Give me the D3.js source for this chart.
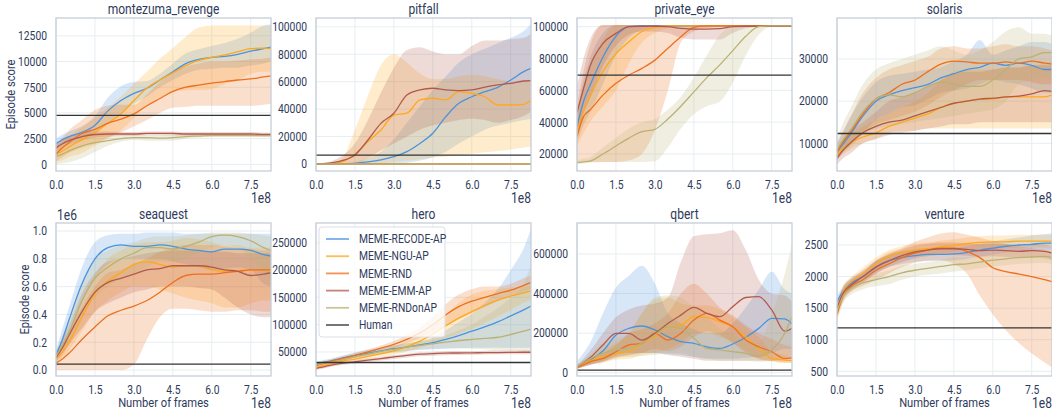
<!DOCTYPE html>
<html>
<head>
<meta charset="utf-8">
<script src="https://cdn.jsdelivr.net/npm/d3@7"></script>
<style>
  html, body { margin: 0; padding: 0; background: #fff; }
  svg text { font-family: Roboto, "Noto Sans", sans-serif; }
  .nar { transform-box: fill-box; transform: scaleX(0.86); }
</style>
</head>
<body>
<svg id="chart" width="1052" height="410"></svg>
<script>
// ---------------------------------------------------------------------------
// Training curves: episode score vs. number of frames (x axis in units of 1e8)
// ---------------------------------------------------------------------------
const frames = [0, 0.25, 0.5, 1, 1.5, 2, 2.5, 3, 3.5, 4, 4.5, 5, 5.5, 6, 6.5, 7, 7.5, 8, 8.28];
const frameMax = 8.28;
const xTicks = [0, 1.5, 3.0, 4.5, 6.0, 7.5];

const methods = ["MEME-RECODE-AP", "MEME-NGU-AP", "MEME-RND", "MEME-EMM-AP", "MEME-RNDonAP"];
const colors = ["#4a93df", "#ffa81a", "#ee6f1c", "#b15a4c", "#bab172"];
const humanColor = "#333333";

const games = ["montezuma_revenge", "pitfall", "private_eye", "solaris",
               "seaquest", "hero", "qbert", "venture"];
const humanScores = [4753.3, 6463.7, 69571.3, 12326.7, 0.0420547, 30826.4, 13455.0, 1187.5];

const yDomains = [[-650, 14230], [-5100, 106400], [9300, 105470], [3436, 39716],
                  [-0.043, 1.0576], [6090, 286000], [-16700, 756600], [425.6, 2848]];
const yTicks = [
  [0, 2500, 5000, 7500, 10000, 12500],
  [0, 20000, 40000, 60000, 80000, 100000],
  [20000, 40000, 60000, 80000, 100000],
  [10000, 20000, 30000],
  [0, 0.2, 0.4, 0.6, 0.8, 1.0],
  [50000, 100000, 150000, 200000, 250000],
  [0, 200000, 400000, 600000],
  [500, 1000, 1500, 2000, 2500]
];

// Each block: one row per method (RECODE, NGU, RND, EMM, RNDonAP)
const montezumaMean = [
  [2000, 2400, 2700, 3100, 3800, 5200, 6200, 6900, 7400, 8200, 9000, 9800, 10200, 10400, 10500, 10700, 11000, 11250, 11400],
  [1000, 1300, 1700, 2400, 3100, 4000, 4900, 6200, 7400, 8200, 8900, 9600, 10100, 10400, 10650, 10950, 11250, 11300, 11250],
  [1000, 1600, 2100, 3000, 3400, 4000, 4400, 4900, 5700, 6400, 7100, 7500, 7700, 7900, 8050, 8200, 8300, 8500, 8600],
  [1600, 2000, 2300, 2700, 2900, 2950, 2950, 2950, 3000, 3000, 3000, 2950, 2950, 2950, 2950, 2950, 2950, 2900, 2900],
  [800, 1000, 1300, 1800, 2100, 2300, 2500, 2600, 2600, 2550, 2600, 2700, 2750, 2800, 2800, 2800, 2800, 2800, 2800]
];
const montezumaLow = [
  [1500, 1900, 2200, 2600, 3000, 4000, 5000, 5900, 6600, 7500, 8200, 8800, 9200, 9300, 9400, 9400, 9600, 9800, 10000],
  [200, 400, 700, 1100, 1800, 2500, 3300, 4500, 5800, 6500, 7000, 7200, 7200, 7300, 7800, 8200, 8800, 9000, 9000],
  [300, 700, 1100, 1600, 2000, 2600, 3100, 3700, 4300, 5000, 5500, 5600, 5700, 5700, 5700, 5700, 5700, 5800, 5900],
  [1200, 1600, 1900, 2300, 2600, 2700, 2750, 2750, 2800, 2800, 2800, 2750, 2750, 2750, 2750, 2750, 2750, 2700, 2700],
  [0, 100, 200, 600, 1200, 1800, 2200, 2400, 2300, 2300, 2300, 2500, 2600, 2650, 2650, 2650, 2650, 2650, 2650]
];
const montezumaHigh = [
  [2500, 2900, 3200, 3700, 4700, 6500, 7600, 8000, 8100, 8800, 9800, 10800, 11200, 11500, 11800, 12200, 12800, 13500, 13600],
  [1800, 2200, 2700, 3600, 4500, 5500, 6600, 7800, 9000, 10300, 11300, 12400, 13300, 13500, 13500, 13500, 13500, 13500, 13500],
  [1800, 2600, 3300, 4300, 5300, 5700, 5800, 5800, 6800, 8000, 9000, 9500, 9800, 10000, 10000, 10100, 10200, 10300, 10400],
  [2000, 2400, 2700, 3100, 3200, 3200, 3150, 3150, 3200, 3200, 3200, 3150, 3150, 3150, 3150, 3150, 3150, 3100, 3100],
  [1800, 2100, 2400, 2700, 2800, 2800, 2800, 2800, 2800, 2800, 2900, 2900, 2950, 2950, 2950, 2950, 2950, 2950, 2950]
];

const pitfallMean = [
  [0, 0, 0, 200, 500, 1500, 3000, 5300, 9000, 15000, 22400, 34500, 44200, 49000, 52700, 55900, 61200, 67300, 69700],
  [0, 0, 100, 1500, 7300, 16300, 24800, 35700, 37000, 46700, 47900, 46700, 52700, 51500, 49000, 43000, 43000, 43500, 46700],
  [0, 0, 0, 0, 0, 0, 0, 0, 0, 0, 0, 0, 0, 0, 0, 0, 0, 0, 0],
  [0, 200, 600, 2400, 6600, 17500, 29600, 37000, 50300, 54000, 55200, 54000, 53500, 54000, 56000, 57600, 58800, 60500, 60700],
  [0, 0, 0, 0, 0, 0, 0, 0, 0, 0, 0, 0, 0, 0, 0, 0, 0, 0, 0]
];
const pitfallLow = [
  [0, 0, 0, 0, 0, 0, 0, 300, 1000, 2500, 5000, 9000, 15000, 20000, 25000, 28000, 30000, 32000, 33000],
  [0, 0, 0, 0, 0, 0, 500, 1500, 2500, 3500, 4500, 5500, 6500, 7500, 8500, 9500, 10500, 12000, 12500],
  [0, 0, 0, 0, 0, 0, 0, 0, 0, 0, 0, 0, 0, 0, 0, 0, 0, 0, 0],
  [0, 0, 0, 0, 500, 4000, 10000, 15000, 20000, 25000, 28000, 30000, 32000, 33000, 32000, 30000, 32000, 35000, 38000],
  [0, 0, 0, 0, 0, 0, 0, 0, 0, 0, 0, 0, 0, 0, 0, 0, 0, 0, 0]
];
const pitfallHigh = [
  [0, 0, 0, 500, 1500, 4000, 9000, 18000, 30000, 42000, 54000, 64000, 74000, 80000, 84000, 88000, 92000, 97000, 102000],
  [0, 0, 300, 4000, 25000, 50000, 72000, 80000, 74000, 66000, 62000, 62000, 64000, 65000, 64000, 62000, 60000, 60000, 62000],
  [0, 100, 200, 300, 300, 300, 300, 300, 300, 300, 300, 300, 300, 300, 300, 300, 300, 300, 300],
  [0, 500, 1500, 6000, 15000, 32000, 52000, 70000, 83000, 85000, 82000, 80000, 80000, 86000, 90000, 90000, 91000, 92000, 95000],
  [0, 100, 200, 400, 400, 400, 400, 400, 400, 400, 400, 400, 400, 400, 400, 400, 400, 400, 400]
];

const privateEyeMean = [
  [37000, 53000, 63000, 81000, 94000, 100000, 100500, 100500, 100500, 100500, 100500, 100500, 100500, 100500, 100500, 100500, 100500, 100500, 100500],
  [34000, 47000, 56000, 72000, 83000, 90500, 97000, 99600, 100500, 100500, 100500, 100500, 100500, 100500, 100500, 100500, 100500, 100500, 100500],
  [31000, 43500, 47600, 57000, 64400, 69600, 73800, 79000, 86400, 93700, 99600, 100500, 100500, 100500, 100500, 100500, 100500, 100500, 100500],
  [46000, 61000, 75000, 89500, 95800, 100000, 100300, 100300, 100000, 99000, 98500, 98500, 98800, 100000, 100300, 100300, 100300, 100300, 100300],
  [14500, 15000, 15500, 20000, 25000, 30000, 34000, 35500, 42000, 50000, 59000, 68000, 76000, 85000, 94000, 100000, 100500, 100500, 100500]
];
const privateEyeLow = [
  [27000, 38000, 46000, 64000, 82000, 93000, 98000, 100000, 100000, 100000, 100000, 100000, 100000, 100000, 100000, 100000, 100000, 100000, 100000],
  [25000, 33000, 40000, 50000, 60000, 77000, 90000, 96000, 99000, 100000, 100000, 100000, 100000, 100000, 100000, 100000, 100000, 100000, 100000],
  [15000, 15000, 15000, 15000, 15000, 16000, 20000, 35000, 60000, 90000, 97000, 99000, 100000, 100000, 100000, 100000, 100000, 100000, 100000],
  [30000, 45000, 55000, 75000, 88000, 95000, 97000, 97000, 96000, 93000, 92000, 92000, 92000, 96000, 99000, 100000, 100000, 100000, 100000],
  [13500, 14000, 14500, 15000, 15000, 15000, 15000, 15500, 24000, 36000, 45000, 50000, 53000, 65000, 82000, 95000, 100000, 100000, 100000]
];
const privateEyeHigh = [
  [46000, 66000, 80000, 96000, 101000, 101000, 101000, 101000, 101000, 101000, 101000, 101000, 101000, 101000, 101000, 101000, 101000, 101000, 101000],
  [42000, 60000, 73000, 92000, 101000, 101000, 101000, 101000, 101000, 101000, 101000, 101000, 101000, 101000, 101000, 101000, 101000, 101000, 101000],
  [50000, 72000, 88000, 101000, 101000, 101000, 101000, 101000, 101000, 101000, 101000, 101000, 101000, 101000, 101000, 101000, 101000, 101000, 101000],
  [62000, 80000, 92000, 101000, 101000, 101000, 101000, 101000, 101000, 101000, 101000, 101000, 101000, 101000, 101000, 101000, 101000, 101000, 101000],
  [16000, 17000, 18000, 24000, 30000, 36000, 40000, 42000, 48000, 56000, 68000, 82000, 95000, 100500, 101000, 101000, 101000, 101000, 101000]
];

const solarisMean = [
  [8000, 10000, 12000, 16500, 20000, 21500, 22500, 23200, 24000, 25500, 26500, 27500, 28000, 29000, 28500, 29000, 28500, 27500, 27500],
  [7500, 8800, 10000, 11500, 12500, 14000, 15000, 16000, 17000, 18500, 19500, 20000, 20500, 20500, 21000, 21000, 21000, 21000, 21500],
  [8000, 10500, 12500, 17000, 20500, 22000, 24000, 25000, 27000, 28800, 29500, 29300, 29000, 29000, 29300, 29000, 29500, 29000, 28800],
  [6500, 8500, 10000, 12500, 14000, 15000, 15500, 16500, 17500, 18500, 19500, 20000, 20500, 20700, 21000, 21200, 21700, 22500, 22300],
  [8500, 11000, 13000, 17500, 20500, 21500, 21000, 22000, 23500, 24500, 24000, 23500, 23500, 25000, 27500, 30000, 30500, 31500, 31500]
];
const solarisLow = [
  [6000, 8000, 9500, 12500, 15500, 17000, 18500, 19000, 20500, 22000, 22500, 23000, 24000, 25000, 24500, 24000, 23000, 22000, 22000],
  [6000, 7500, 8500, 10000, 11000, 12500, 13000, 13000, 13500, 13500, 13500, 13500, 13500, 13500, 13500, 13500, 13500, 13500, 13500],
  [6000, 8000, 9500, 12500, 14500, 15500, 16500, 17500, 19000, 21000, 22500, 24000, 25000, 25000, 25000, 25000, 24500, 24000, 24000],
  [5000, 6500, 7500, 10000, 11000, 12000, 12500, 13000, 13500, 14000, 14500, 14500, 15000, 15000, 15000, 15000, 15000, 15000, 15000],
  [6000, 8000, 9000, 12000, 13500, 14000, 14500, 15000, 15500, 16000, 16500, 17000, 17500, 18000, 20000, 24000, 25000, 25500, 25000]
];
const solarisHigh = [
  [10000, 13000, 16000, 21000, 24500, 26000, 26500, 27000, 27500, 28000, 29500, 31000, 34500, 31000, 32000, 33000, 34000, 34000, 33500],
  [9000, 10500, 12000, 14000, 15500, 17000, 18500, 20000, 22000, 25000, 27000, 27500, 27500, 27500, 28000, 28000, 28500, 29000, 29500],
  [10000, 13000, 16000, 22000, 25500, 27500, 28500, 29500, 30500, 32500, 33000, 32500, 32500, 33000, 33500, 33000, 33000, 32500, 32000],
  [8000, 10500, 12500, 15000, 17500, 20000, 21000, 22000, 23500, 25000, 26500, 27000, 27000, 27500, 28000, 28000, 28500, 28500, 28500],
  [11000, 15000, 18000, 24000, 27500, 29000, 30000, 31000, 32000, 33000, 32000, 31000, 32000, 34000, 36500, 37500, 36000, 36000, 35500]
];

// seaquest scores are in units of 1e6
const seaquestMean = [
  [0.11, 0.22, 0.36, 0.62, 0.8, 0.88, 0.9, 0.89, 0.89, 0.9, 0.89, 0.87, 0.86, 0.85, 0.87, 0.87, 0.86, 0.83, 0.82],
  [0.08, 0.13, 0.2, 0.38, 0.55, 0.64, 0.7, 0.76, 0.78, 0.76, 0.74, 0.75, 0.75, 0.72, 0.71, 0.71, 0.72, 0.72, 0.71],
  [0.05, 0.08, 0.12, 0.22, 0.31, 0.39, 0.43, 0.46, 0.5, 0.56, 0.63, 0.68, 0.69, 0.69, 0.7, 0.71, 0.72, 0.72, 0.72],
  [0.09, 0.16, 0.25, 0.42, 0.56, 0.63, 0.66, 0.69, 0.72, 0.73, 0.75, 0.75, 0.75, 0.74, 0.72, 0.71, 0.68, 0.69, 0.7],
  [0.1, 0.18, 0.27, 0.5, 0.66, 0.74, 0.8, 0.84, 0.88, 0.88, 0.87, 0.89, 0.92, 0.96, 0.97, 0.96, 0.93, 0.88, 0.86]
];
const seaquestLow = [
  [0.08, 0.16, 0.26, 0.48, 0.66, 0.76, 0.8, 0.8, 0.8, 0.8, 0.78, 0.76, 0.74, 0.72, 0.73, 0.74, 0.72, 0.62, 0.6],
  [0.05, 0.09, 0.14, 0.28, 0.42, 0.5, 0.56, 0.6, 0.6, 0.58, 0.55, 0.52, 0.5, 0.48, 0.45, 0.45, 0.48, 0.5, 0.5],
  [0, 0, 0, 0, 0, 0, 0, 0.04, 0.22, 0.38, 0.44, 0.44, 0.43, 0.42, 0.42, 0.43, 0.43, 0.42, 0.42],
  [0.06, 0.11, 0.18, 0.3, 0.42, 0.48, 0.52, 0.56, 0.58, 0.6, 0.6, 0.6, 0.59, 0.58, 0.52, 0.45, 0.4, 0.38, 0.38],
  [0.07, 0.13, 0.2, 0.38, 0.52, 0.6, 0.66, 0.7, 0.74, 0.78, 0.78, 0.8, 0.84, 0.88, 0.9, 0.88, 0.8, 0.7, 0.66]
];
const seaquestHigh = [
  [0.14, 0.3, 0.45, 0.74, 0.92, 0.97, 0.98, 0.98, 0.99, 0.99, 0.99, 0.98, 0.98, 0.98, 0.98, 0.98, 0.98, 0.98, 0.98],
  [0.12, 0.2, 0.28, 0.5, 0.68, 0.8, 0.86, 0.9, 0.92, 0.92, 0.93, 0.95, 0.94, 0.92, 0.9, 0.9, 0.88, 0.88, 0.88],
  [0.1, 0.18, 0.28, 0.45, 0.6, 0.7, 0.72, 0.76, 0.8, 0.85, 0.88, 0.9, 0.9, 0.9, 0.89, 0.88, 0.87, 0.86, 0.86],
  [0.12, 0.22, 0.32, 0.55, 0.7, 0.78, 0.8, 0.82, 0.84, 0.85, 0.86, 0.86, 0.86, 0.85, 0.85, 0.84, 0.84, 0.84, 0.84],
  [0.14, 0.25, 0.36, 0.62, 0.8, 0.86, 0.9, 0.92, 0.95, 0.96, 0.96, 0.97, 0.98, 0.99, 0.99, 0.99, 0.98, 0.97, 0.96]
];

const heroMean = [
  [28000, 30500, 33000, 39000, 44000, 48000, 52000, 56000, 59000, 63000, 67000, 73000, 80000, 88000, 96000, 105000, 116000, 127000, 134000],
  [22000, 25000, 28000, 33000, 37000, 42000, 47000, 52000, 60000, 70000, 83000, 98000, 112000, 124000, 135000, 145000, 152000, 158000, 162000],
  [25000, 28500, 32000, 38000, 44000, 50000, 57000, 64000, 73000, 85000, 100000, 118000, 133000, 143000, 150000, 157000, 163000, 172000, 177000],
  [20000, 22500, 25000, 29000, 32000, 35000, 38000, 41000, 44000, 46000, 47000, 48000, 48200, 48500, 48700, 49000, 49200, 49500, 49500],
  [27000, 29000, 31000, 35000, 41000, 46000, 51000, 55000, 59000, 62000, 65000, 68000, 71000, 73000, 75000, 77000, 82000, 88000, 92000]
];
const heroLow = [
  [24000, 27000, 30000, 35000, 39000, 43000, 47000, 50000, 52000, 54000, 55000, 56000, 57000, 58000, 58000, 58000, 58000, 58000, 58000],
  [18000, 21000, 24000, 29000, 33000, 37000, 41000, 45000, 51000, 58000, 66000, 75000, 84000, 92000, 103000, 115000, 127000, 140000, 145000],
  [20000, 24000, 28000, 34000, 40000, 45000, 51000, 58000, 66000, 75000, 86000, 98000, 110000, 122000, 133000, 143000, 152000, 160000, 165000],
  [17000, 19500, 22000, 26000, 29000, 32000, 34500, 37000, 40000, 42000, 43000, 44000, 44500, 45000, 45500, 46000, 46000, 46000, 46000],
  [24000, 26000, 28000, 32000, 37000, 41000, 45000, 49000, 52000, 54000, 56000, 57000, 57000, 56000, 55000, 54000, 53000, 52000, 52000]
];
const heroHigh = [
  [32000, 35000, 37000, 43000, 49000, 54000, 58000, 62000, 66000, 70000, 76000, 90000, 105000, 120000, 140000, 165000, 200000, 240000, 275000],
  [26000, 29000, 32000, 37000, 42000, 47000, 53000, 60000, 70000, 82000, 100000, 118000, 140000, 155000, 162000, 165000, 168000, 170000, 172000],
  [30000, 33000, 36000, 42000, 48000, 55000, 62000, 70000, 82000, 95000, 115000, 138000, 155000, 165000, 170000, 170000, 175000, 185000, 190000],
  [23000, 25500, 28000, 32000, 35000, 38000, 41000, 44000, 47000, 49000, 50500, 51500, 52000, 52000, 52500, 53000, 53000, 53000, 53000],
  [30000, 32000, 34000, 38000, 45000, 51000, 56000, 61000, 65000, 69000, 73000, 80000, 90000, 100000, 115000, 130000, 150000, 175000, 210000]
];

const qbertMean = [
  [30000, 45000, 65000, 110000, 190000, 224000, 236000, 216000, 182000, 157000, 148000, 131000, 123000, 145000, 179000, 224000, 275000, 272000, 246000],
  [25000, 45000, 60000, 81000, 98000, 106000, 148000, 182000, 232000, 241000, 283000, 280000, 258000, 232000, 182000, 123000, 72000, 64000, 62000],
  [25000, 40000, 55000, 72000, 106000, 140000, 148000, 199000, 165000, 199000, 266000, 300000, 266000, 232000, 165000, 131000, 106000, 72000, 75000],
  [30000, 50000, 75000, 140000, 199000, 199000, 165000, 199000, 249000, 291000, 330000, 300000, 283000, 334000, 380000, 384000, 317000, 210000, 225000],
  [30000, 50000, 70000, 98000, 115000, 123000, 148000, 190000, 232000, 224000, 174000, 123000, 115000, 106000, 98000, 81000, 115000, 199000, 283000]
];
const qbertLow = [
  [20000, 30000, 40000, 55000, 80000, 90000, 100000, 100000, 95000, 90000, 80000, 70000, 70000, 70000, 75000, 80000, 100000, 120000, 120000],
  [20000, 30000, 40000, 55000, 65000, 70000, 90000, 100000, 120000, 150000, 200000, 200000, 180000, 150000, 110000, 70000, 55000, 50000, 50000],
  [20000, 30000, 40000, 50000, 75000, 90000, 100000, 120000, 110000, 130000, 180000, 210000, 190000, 150000, 100000, 70000, 60000, 50000, 50000],
  [20000, 30000, 40000, 60000, 90000, 100000, 100000, 100000, 90000, 80000, 70000, 60000, 60000, 60000, 60000, 60000, 60000, 65000, 70000],
  [20000, 35000, 50000, 60000, 75000, 80000, 85000, 90000, 100000, 100000, 80000, 70000, 60000, 60000, 60000, 55000, 60000, 80000, 90000]
];
const qbertHigh = [
  [60000, 100000, 150000, 300000, 430000, 490000, 540000, 450000, 300000, 250000, 220000, 200000, 200000, 250000, 330000, 420000, 510000, 420000, 400000],
  [35000, 60000, 80000, 120000, 150000, 200000, 300000, 370000, 380000, 350000, 340000, 340000, 320000, 280000, 230000, 180000, 110000, 90000, 80000],
  [35000, 55000, 75000, 100000, 140000, 200000, 220000, 250000, 300000, 400000, 450000, 400000, 330000, 290000, 240000, 200000, 170000, 140000, 130000],
  [40000, 70000, 110000, 200000, 280000, 320000, 340000, 350000, 380000, 560000, 690000, 700000, 705000, 720000, 620000, 470000, 400000, 390000, 360000],
  [40000, 65000, 90000, 150000, 170000, 200000, 300000, 380000, 390000, 380000, 330000, 280000, 220000, 190000, 160000, 150000, 300000, 500000, 650000]
];

const ventureMean = [
  [1600, 1780, 1880, 2000, 2150, 2250, 2300, 2330, 2350, 2350, 2360, 2380, 2420, 2450, 2480, 2500, 2510, 2530, 2530],
  [1450, 1780, 1900, 2050, 2200, 2320, 2380, 2420, 2440, 2470, 2490, 2520, 2540, 2550, 2550, 2560, 2560, 2560, 2560],
  [1400, 1700, 1830, 1950, 2100, 2200, 2300, 2370, 2420, 2450, 2450, 2400, 2300, 2140, 2080, 2040, 2000, 1950, 1920],
  [1500, 1750, 1850, 2000, 2150, 2250, 2330, 2390, 2420, 2440, 2440, 2430, 2410, 2420, 2410, 2400, 2410, 2400, 2370],
  [1450, 1700, 1800, 1900, 1950, 2000, 2060, 2100, 2130, 2160, 2190, 2200, 2230, 2260, 2280, 2300, 2310, 2320, 2300]
];
const ventureLow = [
  [1500, 1700, 1800, 1920, 2050, 2150, 2200, 2230, 2250, 2250, 2260, 2280, 2320, 2350, 2380, 2400, 2410, 2420, 2420],
  [1350, 1700, 1820, 1960, 2100, 2220, 2280, 2320, 2340, 2370, 2390, 2420, 2440, 2450, 2450, 2460, 2460, 2460, 2460],
  [1300, 1600, 1750, 1850, 1950, 2050, 2150, 2220, 2250, 2260, 2200, 2050, 1700, 1400, 1150, 950, 780, 640, 560],
  [1400, 1650, 1750, 1900, 2050, 2150, 2230, 2290, 2320, 2340, 2340, 2330, 2310, 2320, 2310, 2300, 2300, 2290, 2260],
  [1350, 1600, 1700, 1800, 1850, 1880, 1950, 2000, 2030, 2050, 2080, 2100, 2130, 2160, 2180, 2200, 2210, 2220, 2200]
];
const ventureHigh = [
  [1700, 1860, 1960, 2080, 2250, 2350, 2400, 2430, 2450, 2450, 2460, 2480, 2520, 2560, 2590, 2620, 2650, 2670, 2680],
  [1550, 1860, 1980, 2140, 2300, 2420, 2480, 2520, 2540, 2570, 2590, 2620, 2640, 2650, 2650, 2660, 2660, 2660, 2660],
  [1500, 1800, 1920, 2050, 2250, 2380, 2450, 2550, 2620, 2680, 2700, 2660, 2620, 2560, 2520, 2480, 2450, 2420, 2400],
  [1600, 1850, 1950, 2100, 2250, 2350, 2430, 2490, 2520, 2540, 2540, 2530, 2510, 2520, 2510, 2500, 2520, 2510, 2480],
  [1550, 1800, 1900, 2000, 2050, 2100, 2170, 2200, 2230, 2260, 2300, 2300, 2330, 2360, 2380, 2400, 2410, 2420, 2400]
];

const means = [montezumaMean, pitfallMean, privateEyeMean, solarisMean, seaquestMean, heroMean, qbertMean, ventureMean];
const lows  = [montezumaLow, pitfallLow, privateEyeLow, solarisLow, seaquestLow, heroLow, qbertLow, ventureLow];
const highs = [montezumaHigh, pitfallHigh, privateEyeHigh, solarisHigh, seaquestHigh, heroHigh, qbertHigh, ventureHigh];

// ---------------------------------------------------------------------------
// Layout
// ---------------------------------------------------------------------------
const colLeft = [56, 316, 577, 837];
const rowTop = [18, 223];
const plotW = 215, plotH = 153;
const ink = "#2f3b5c";
const frameCol = "#c6cdd8";
const gridCol = "#e7eef1";

const svg = d3.select("#chart");

function narrow(sel, origin) {
  sel.classed("nar", true).style("transform-origin", origin);
  return sel;
}

games.forEach((name, gi) => {
  const col = gi % 4, row = Math.floor(gi / 4);
  const left = colLeft[col], top = rowTop[row];
  const x = d3.scaleLinear().domain([0, frameMax]).range([0, plotW]);
  const y = d3.scaleLinear().domain(yDomains[gi]).range([plotH, 0]);

  const g = svg.append("g").attr("transform", `translate(${left},${top})`);
  const clipId = "clip-" + name;
  g.append("clipPath").attr("id", clipId)
    .append("rect").attr("width", plotW).attr("height", plotH);

  // grid
  const grid = g.append("g");
  grid.selectAll("line.gx").data(xTicks).join("line").attr("class", "gx")
    .attr("x1", d => x(d)).attr("x2", d => x(d)).attr("y1", 0).attr("y2", plotH)
    .attr("stroke", gridCol).attr("stroke-width", 1);
  grid.selectAll("line.gy").data(yTicks[gi]).join("line").attr("class", "gy")
    .attr("y1", d => y(d)).attr("y2", d => y(d)).attr("x1", 0).attr("x2", plotW)
    .attr("stroke", gridCol).attr("stroke-width", 1);

  const body = g.append("g").attr("clip-path", `url(#${clipId})`);

  const area = d3.area()
    .x(d => x(d.t)).y0(d => y(d.lo)).y1(d => y(d.hi))
    .curve(d3.curveMonotoneX);
  const line = d3.line()
    .x(d => x(d.t)).y(d => y(d.v))
    .curve(d3.curveMonotoneX);

  methods.forEach((m, mi) => {
    const pts = frames.map((t, i) => ({ t, lo: lows[gi][mi][i], hi: highs[gi][mi][i] }));
    body.append("path").datum(pts).attr("d", area)
      .attr("fill", colors[mi]).attr("fill-opacity", 0.22).attr("stroke", "none");
  });
  methods.forEach((m, mi) => {
    const pts = frames.map((t, i) => ({ t, v: means[gi][mi][i] }));
    body.append("path").datum(pts).attr("d", line)
      .attr("fill", "none").attr("stroke", colors[mi]).attr("stroke-width", 1.3);
  });

  // human reference
  body.append("line")
    .attr("x1", 0).attr("x2", plotW)
    .attr("y1", y(humanScores[gi])).attr("y2", y(humanScores[gi]))
    .attr("stroke", humanColor).attr("stroke-width", 1.3);

  // frame
  g.append("rect").attr("width", plotW).attr("height", plotH)
    .attr("fill", "none").attr("stroke", frameCol).attr("stroke-width", 1.3);

  // axes
  const xa = g.append("g").attr("transform", `translate(0,${plotH})`)
    .call(d3.axisBottom(x).tickValues(xTicks).tickFormat(d3.format(".1f")).tickSize(0).tickPadding(9))
    .attr("font-size", null).attr("font-family", null);
  xa.select(".domain").remove();
  xa.selectAll("text").attr("fill", ink).style("font-size", "12px")
    .call(narrow, "50% 50%");

  const yfmt = gi === 4 ? d3.format(".1f") : d3.format("d");
  const ya = g.append("g")
    .call(d3.axisLeft(y).tickValues(yTicks[gi]).tickFormat(yfmt).tickSize(0).tickPadding(9))
    .attr("font-size", null).attr("font-family", null);
  ya.select(".domain").remove();
  ya.selectAll("text").attr("fill", ink).style("font-size", "12px")
    .call(narrow, "100% 50%");

  // title
  g.append("text").attr("x", plotW / 2).attr("y", -4)
    .attr("text-anchor", "middle").attr("fill", ink).style("font-size", "14px")
    .text(name).call(narrow, "50% 50%");

  // x offset label
  g.append("text").attr("x", plotW).attr("y", plotH + 32)
    .attr("text-anchor", "end").attr("fill", ink).style("font-size", "14px")
    .text("1e8").call(narrow, "100% 50%");

  if (gi === 4) {
    g.append("text").attr("x", 1).attr("y", -3)
      .attr("text-anchor", "start").attr("fill", ink).style("font-size", "14px")
      .text("1e6").call(narrow, "0% 50%");
  }

  if (row === 1) {
    g.append("text").attr("x", plotW / 2).attr("y", plotH + 31)
      .attr("text-anchor", "middle").attr("fill", ink).style("font-size", "13px")
      .text("Number of frames").call(narrow, "50% 50%");
  }

  if (col === 0) {
    const cx = (row === 0 ? 10 : 24) - left;
    g.append("g").attr("transform", `translate(${cx},${plotH / 2}) rotate(-90)`)
      .append("text").attr("text-anchor", "middle").attr("dy", "0.35em")
      .attr("fill", ink).style("font-size", "13px")
      .text("Episode score").call(narrow, "50% 50%");
  }

  // legend
  if (name === "hero") {
    const entries = methods.map((m, i) => ({ label: m, color: colors[i] }))
      .concat([{ label: "Human", color: humanColor }]);
    const lg = g.append("g").attr("transform", "translate(3,4)");
    lg.append("rect").attr("width", 126).attr("height", 110).attr("rx", 3)
      .attr("fill", "#fff").attr("fill-opacity", 0.8)
      .attr("stroke", "#dadfe6").attr("stroke-width", 1);
    const item = lg.selectAll("g.item").data(entries).join("g").attr("class", "item")
      .attr("transform", (d, i) => `translate(0,${12 + i * 17.2})`);
    item.append("line").attr("x1", 7).attr("x2", 30)
      .attr("stroke", d => d.color).attr("stroke-width", 1.8).attr("stroke-opacity", 0.75);
    item.append("text").attr("x", 40).attr("dy", "0.35em")
      .attr("fill", ink).style("font-size", "12px")
      .text(d => d.label).call(narrow, "0% 50%");
  }
});
</script>
</body>
</html>
